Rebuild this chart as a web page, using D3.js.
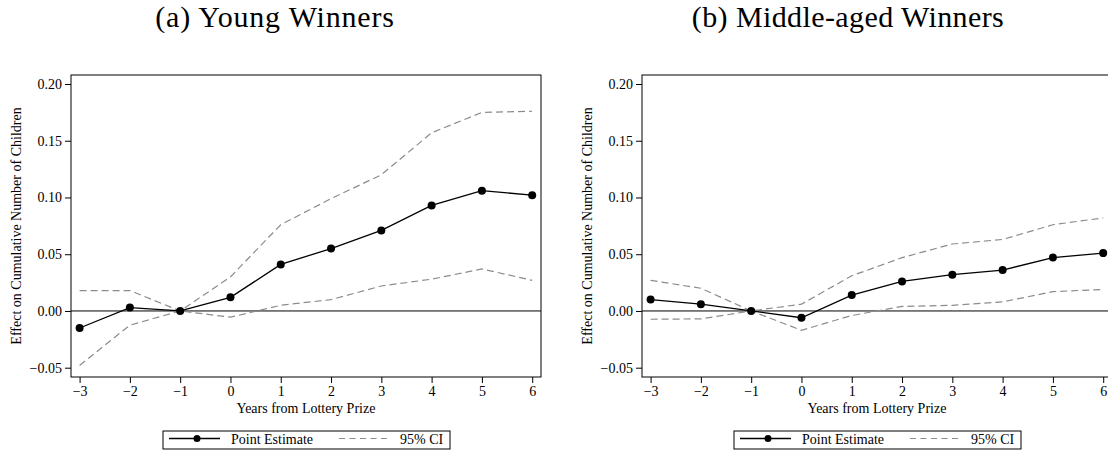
<!DOCTYPE html>
<html>
<head>
<meta charset="utf-8">
<script src="https://cdn.jsdelivr.net/npm/d3@7"></script>
<style>
  body { margin: 0; background: #fff; }
  svg { display: block; }
  text { font-family: "Liberation Serif", "Times New Roman", serif; fill: #000; }
</style>
</head>
<body>
<div id="chart"></div>
<script>
// event-study estimates
const years = [-3, -2, -1, 0, 1, 2, 3, 4, 5, 6];
const yTicks = [-0.05, 0, 0.05, 0.10, 0.15, 0.20];

const youngEst = [-0.015, 0.003, 0, 0.012, 0.041, 0.055, 0.071, 0.093, 0.106, 0.102];
const youngHi  = [0.018, 0.018, 0, 0.030, 0.076, 0.099, 0.120, 0.157, 0.175, 0.176];
const youngLo  = [-0.048, -0.0125, 0, -0.0055, 0.005, 0.010, 0.022, 0.028, 0.037, 0.027];

const midEst = [0.010, 0.006, 0, -0.006, 0.014, 0.026, 0.032, 0.036, 0.047, 0.051];
const midHi  = [0.027, 0.020, 0, 0.006, 0.031, 0.047, 0.059, 0.063, 0.076, 0.082];
const midLo  = [-0.0073, -0.007, 0, -0.017, -0.004, 0.004, 0.005, 0.008, 0.017, 0.019];

const titles = ["(a) Young Winners", "(b) Middle-aged Winners"];

const width = 1108, height = 452;

const svg = d3.select("#chart").append("svg")
    .attr("width", width)
    .attr("height", height);

const panels = [
    { title: titles[0], est: youngEst, lo: youngLo, hi: youngHi, left: 71, titleX: 275, spacing: 0.8 },
    { title: titles[1], est: midEst, lo: midLo, hi: midHi, left: 642, titleX: 848, spacing: 0.4 }
];

const frameW = 470, frameTop = 75, frameBottom = 377;

const y = d3.scaleLinear().domain([-0.05, 0.20]).range([367.7, 84]);

panels.forEach(p => {
    const g = svg.append("g");
    const x = d3.scaleLinear().domain([-3, 6]).range([p.left + 8.6, p.left + 461.2]);

    g.append("text")
        .attr("x", p.titleX)
        .attr("y", 27)
        .attr("text-anchor", "middle")
        .style("font-size", "30px")
        .style("letter-spacing", p.spacing + "px")
        .text(p.title);

    // frame
    g.append("rect")
        .attr("x", p.left)
        .attr("y", frameTop)
        .attr("width", frameW)
        .attr("height", frameBottom - frameTop)
        .attr("fill", "none")
        .attr("stroke", "#000")
        .attr("stroke-width", 1);

    // axes
    const xAxis = d3.axisBottom(x).tickValues(years).tickSize(6).tickPadding(3)
        .tickFormat(d => d < 0 ? "\u2212" + Math.abs(d) : d);
    g.append("g")
        .attr("transform", `translate(0,${frameBottom})`)
        .call(xAxis)
        .call(a => a.select(".domain").remove())
        .call(a => a.selectAll("text").style("font-size", "14px").style("font-family", "Liberation Serif"));

    const yAxis = d3.axisLeft(y).tickValues(yTicks).tickSize(6).tickPadding(3)
        .tickFormat(d3.format(".2f"));
    g.append("g")
        .attr("transform", `translate(${p.left},0)`)
        .call(yAxis)
        .call(a => a.select(".domain").remove())
        .call(a => a.selectAll("text").style("font-size", "14px").style("font-family", "Liberation Serif"));

    g.append("text")
        .attr("x", x(1.5))
        .attr("y", 413)
        .attr("text-anchor", "middle")
        .style("font-size", "14px")
        .text("Years from Lottery Prize");

    g.append("text")
        .attr("transform", `translate(${p.left - 50},${(frameTop + frameBottom) / 2}) rotate(-90)`)
        .attr("text-anchor", "middle")
        .style("font-size", "14px")
        .text("Effect on Cumulative Number of Children");

    // zero line
    g.append("line")
        .attr("x1", p.left).attr("x2", p.left + frameW)
        .attr("y1", y(0)).attr("y2", y(0))
        .attr("stroke", "#000").attr("stroke-width", 1);

    const line = d3.line().x((d, i) => x(years[i])).y(d => y(d));

    [p.hi, p.lo].forEach(ci => {
        g.append("path")
            .attr("d", line(ci))
            .attr("fill", "none")
            .attr("stroke", "#8c8c8c")
            .attr("stroke-width", 1.2)
            .attr("stroke-dasharray", "7,4");
    });

    g.append("path")
        .attr("d", line(p.est))
        .attr("fill", "none")
        .attr("stroke", "#000")
        .attr("stroke-width", 1.3);

    g.selectAll("circle.pt")
        .data(p.est)
        .enter().append("circle")
        .attr("class", "pt")
        .attr("cx", (d, i) => x(years[i]))
        .attr("cy", d => y(d))
        .attr("r", 4)
        .attr("fill", "#000");

    // legend
    const lw = 287;
    const lx = (p.left + frameW / 2) - lw / 2 + 0.5;
    const leg = g.append("g").attr("transform", `translate(${lx},431)`);
    leg.append("rect")
        .attr("width", lw).attr("height", 18)
        .attr("fill", "#fff").attr("stroke", "#000").attr("stroke-width", 1);
    leg.append("line")
        .attr("x1", 6).attr("x2", 57).attr("y1", 7.5).attr("y2", 7.5)
        .attr("stroke", "#000").attr("stroke-width", 1.3);
    leg.append("circle").attr("cx", 34).attr("cy", 7.5).attr("r", 3.5).attr("fill", "#000");
    leg.append("text").attr("x", 68).attr("y", 12.5).style("font-size", "14px").text("Point Estimate");
    leg.append("line")
        .attr("x1", 176).attr("x2", 227).attr("y1", 7.5).attr("y2", 7.5)
        .attr("stroke", "#8c8c8c").attr("stroke-width", 1.2).attr("stroke-dasharray", "6,4.5");
    leg.append("text").attr("x", 237).attr("y", 12.5).style("font-size", "14px").text("95% CI");
});
</script>
</body>
</html>
